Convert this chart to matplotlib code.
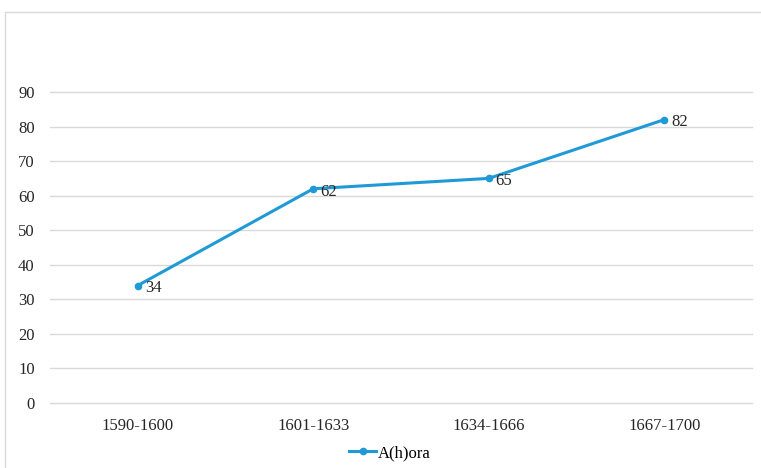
import matplotlib.pyplot as plt
from matplotlib.patches import Rectangle

periods = ["1590-1600", "1601-1633", "1634-1666", "1667-1700"]
ahora = [34, 62, 65, 82]
yticks = [0, 10, 20, 30, 40, 50, 60, 70, 80, 90]

color = "#1f9ad6"
plt.rcParams["font.family"] = ["Liberation Serif", "DejaVu Serif"]

fig = plt.figure(figsize=(7.61, 4.68), dpi=100)
ax = fig.add_axes([50 / 761, 1 - 403 / 468, 702 / 761, 311 / 468])

# outer chart border
fig.patches.append(Rectangle((5 / 761, -0.1), 1.2, 1 - 12 / 468 + 0.1,
                             transform=fig.transFigure, fill=False,
                             edgecolor="#d9d9d9", linewidth=1))

x = range(len(periods))
line, = ax.plot(x, ahora, color=color, linewidth=2.2, marker="o",
                markersize=4.5, label="A(h)ora", zorder=3)
for xi, v in zip(x, ahora):
    ax.annotate(str(v), (xi, v), xytext=(5, -2), textcoords="offset points",
                ha="left", va="center", fontsize=12, color="#262626")

ax.set_xlim(-0.5, len(periods) - 0.5)
ax.set_ylim(0, 90)
ax.set_yticks(yticks)
ax.set_xticks(list(x))
ax.set_xticklabels(periods)
ax.grid(axis="y", color="#d9d9d9", linewidth=1, clip_on=False)
for gl in ax.get_ygridlines():
    gl.set_clip_on(False)
ax.set_axisbelow(True)
for s in ax.spines.values():
    s.set_visible(False)
ax.tick_params(length=0, labelsize=12, colors="#262626")
ax.tick_params(axis="y", pad=11)
ax.tick_params(axis="x", pad=11)

fig.legend(handles=[line], loc="center", bbox_to_anchor=(390 / 761, 1 - 453 / 468),
           frameon=False, fontsize=12, handlelength=1.6, handletextpad=0.1)

fig.savefig("out.png", dpi=100)
